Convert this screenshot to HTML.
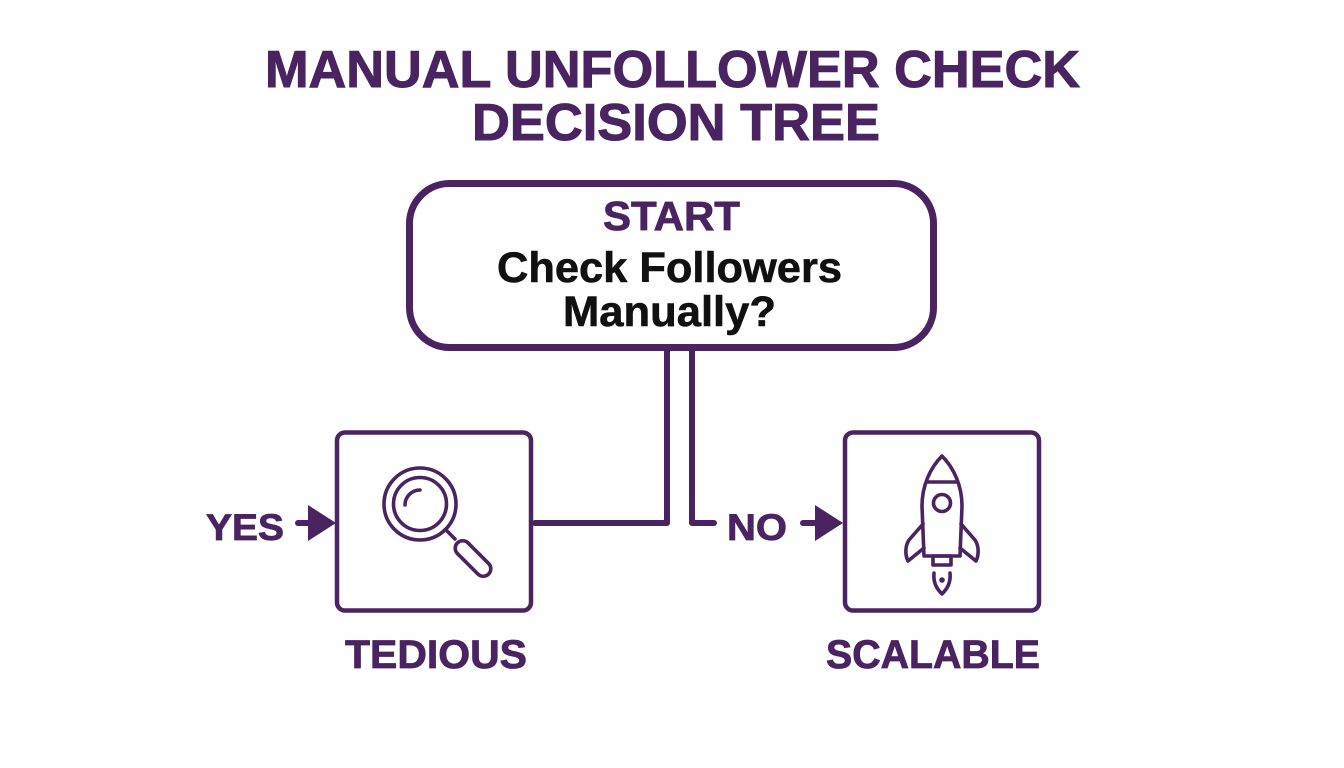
<!DOCTYPE html>
<html>
<head>
<meta charset="utf-8">
<style>
  html, body { margin: 0; padding: 0; background: #ffffff; }
  body { width: 1344px; height: 768px; overflow: hidden; }
  svg { display: block; }
  text { font-family: "Liberation Sans", Arial, sans-serif; font-weight: bold; }
</style>
</head>
<body>
<svg width="1344" height="768" viewBox="0 0 1344 768" xmlns="http://www.w3.org/2000/svg">
  <rect x="0" y="0" width="1344" height="768" fill="#ffffff"/>

  <!-- Title -->
  <text x="265" y="87" font-size="52" fill="#4a2361" stroke="#4a2361" stroke-width="1" textLength="815" lengthAdjust="spacingAndGlyphs">MANUAL UNFOLLOWER CHECK</text>
  <text x="472" y="140" font-size="52" fill="#4a2361" stroke="#4a2361" stroke-width="1" textLength="408" lengthAdjust="spacingAndGlyphs">DECISION TREE</text>

  <!-- Start box -->
  <rect x="409.5" y="183.5" width="524" height="164" rx="40" ry="40" fill="none" stroke="#4a2361" stroke-width="7"/>
  <text x="603" y="230" font-size="41" fill="#4a2361" stroke="#4a2361" stroke-width="0.8" textLength="137" lengthAdjust="spacingAndGlyphs">START</text>
  <text x="497" y="282" font-size="43" fill="#111111" stroke="#111111" stroke-width="0.6" textLength="345" lengthAdjust="spacingAndGlyphs">Check Followers</text>
  <text x="563" y="326" font-size="43" fill="#111111" stroke="#111111" stroke-width="0.6" textLength="213" lengthAdjust="spacingAndGlyphs">Manually?</text>

  <!-- Connectors -->
  <g fill="none" stroke="#4a2361" stroke-width="6" stroke-linecap="round" stroke-linejoin="round">
    <path d="M667 350 L667 523 L535 523"/>
    <path d="M692 350 L692 523 L714 523"/>
    <path d="M298 523 L312 523"/>
    <path d="M803 523 L817 523"/>
  </g>
  <polygon points="308,505 336,523 308,541" fill="#4a2361"/>
  <polygon points="815,505 843,523 815,541" fill="#4a2361"/>

  <!-- Labels YES / NO -->
  <text x="206" y="540" font-size="37" fill="#4a2361" stroke="#4a2361" stroke-width="0.8" textLength="78" lengthAdjust="spacingAndGlyphs">YES</text>
  <text x="727" y="540" font-size="37" fill="#4a2361" stroke="#4a2361" stroke-width="0.8" textLength="60" lengthAdjust="spacingAndGlyphs">NO</text>

  <!-- Left box -->
  <rect x="337" y="432.5" width="194" height="178" rx="8" ry="8" fill="none" stroke="#4a2361" stroke-width="4.5"/>
  <!-- Magnifier -->
  <g fill="none" stroke="#4a2361" stroke-width="3.6" stroke-linecap="round">
    <circle cx="420" cy="504" r="36"/>
    <circle cx="420" cy="504" r="26.5"/>
    <path d="M405 505 A15 15 0 0 1 420 490"/>
    <path d="M446 530 L455 539"/>
    <rect x="451" y="551" width="44" height="15" rx="7.5" ry="7.5" transform="rotate(45 473 558.5)" />
  </g>

  <!-- Right box -->
  <rect x="845" y="432.5" width="194" height="178" rx="8" ry="8" fill="none" stroke="#4a2361" stroke-width="4.5"/>
  <!-- Rocket -->
  <g fill="none" stroke="#4a2361" stroke-width="3.6" stroke-linejoin="round" stroke-linecap="round">
    <path d="M942 456 C930 468 922 486 922 506 L924 556 L960 556 L962 506 C962 486 954 468 942 456 Z"/>
    <path d="M927 482 L957 482"/>
    <circle cx="942" cy="503" r="8.5"/>
    <path d="M923 524 L909 540 C905 546 905 555 908 561 L924 548"/>
    <path d="M961 524 L975 540 C979 546 979 555 976 561 L960 548"/>
    <rect x="933" y="556" width="18" height="9"/>
    <path d="M934 573 C933 583 937 589 942 594 C947 589 951 583 950 573"/>
  </g>
  <circle cx="942" cy="580" r="2.8" fill="#4a2361"/>

  <!-- Bottom labels -->
  <text x="345" y="668" font-size="40" fill="#4a2361" stroke="#4a2361" stroke-width="0.8" textLength="182" lengthAdjust="spacingAndGlyphs">TEDIOUS</text>
  <text x="826" y="668" font-size="40" fill="#4a2361" stroke="#4a2361" stroke-width="0.8" textLength="214" lengthAdjust="spacingAndGlyphs">SCALABLE</text>
</svg>
</body>
</html>
